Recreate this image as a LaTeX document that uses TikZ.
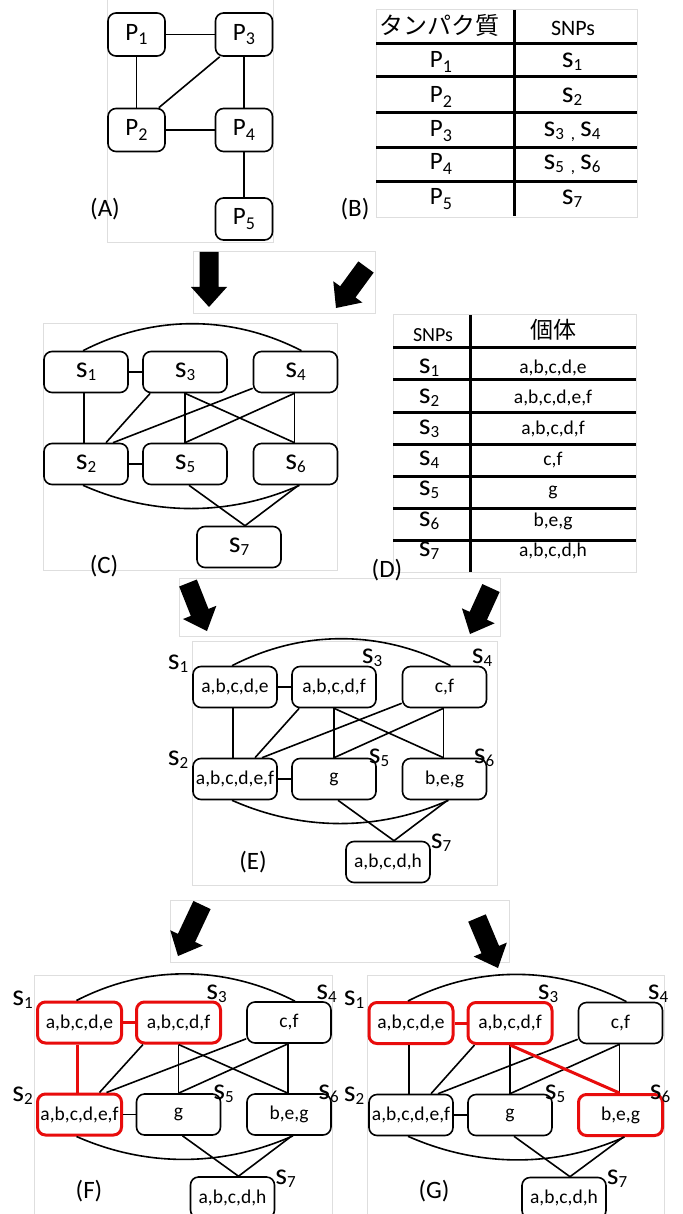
\documentclass[tikz,border=0pt]{standalone}
\usepackage{fontspec}
\setmainfont{Carlito}
\newfontfamily\jpfont{Noto Sans CJK JP}
\usetikzlibrary{calc}
\definecolor{hlred}{RGB}{232,12,12}
\definecolor{pgray}{RGB}{222,222,222}
\newcommand\mysubs[1]{\raisebox{-3pt}{\fontsize{17}{17}\selectfont #1}}
\newcommand\mysubp[1]{\raisebox{-4.5pt}{\fontsize{18}{18}\selectfont #1}}
\newcommand\sS[1]{s\mysubs{#1}}
\newcommand\pP[1]{P\mysubp{#1}}
\tikzset{
  panel/.style={draw=pgray, line width=0.8pt},
  pbox/.style={draw, line width=1.6pt, rounded corners=8pt, minimum width=57pt, minimum height=43pt, inner sep=0pt, font=\fontsize{25}{27}\selectfont},
  gfont/.style={font=\fontsize{19.5}{21}\selectfont},
  gbox/.style={draw, line width=1.6pt, rounded corners=8pt, minimum width=84pt, minimum height=41pt, inner sep=0pt, gfont},
  redbox/.style={draw=hlred, line width=3pt},
  gedge/.style={line width=1.6pt},
  redge/.style={draw=hlred, line width=3pt},
  tline/.style={line width=3pt},
  plabel/.style={inner sep=0pt, font=\fontsize{25}{27}\selectfont},
  slab/.style={inner sep=0pt, font=\fontsize{30}{32}\selectfont},
  ptxt/.style={inner sep=0pt, anchor=base, font=\fontsize{25}{27}\selectfont},
  stxt/.style={inner sep=0pt, anchor=base, font=\fontsize{30}{32}\selectfont},
  vtxt/.style={inner sep=0pt, anchor=base, font=\fontsize{19.5}{21}\selectfont},
  hl1/.style={}, hl2/.style={}, hl3/.style={}, hl4/.style={}, hl5/.style={}, hl6/.style={}, hl7/.style={},
  e12/.style={gedge}, e13/.style={gedge}, e36/.style={gedge},
}
\newcommand\barrow[3]{%
  \coordinate (#1-t) at #2;
  \coordinate (#1-h) at #3;
  \coordinate (#1-b) at ($(#1-h)!20pt!(#1-t)$);
  \fill ($(#1-t)!9.5pt!90:(#1-h)$) -- ($(#1-b)!9.5pt!90:(#1-h)$) -- ($(#1-b)!18pt!90:(#1-h)$) -- (#1-h) -- ($(#1-b)!18pt!-90:(#1-h)$) -- ($(#1-b)!9.5pt!-90:(#1-h)$) -- ($(#1-t)!9.5pt!-90:(#1-h)$) -- cycle;
}
\newcommand\snpgraph[8]{%
  \node[gbox,hl1] (#1-1) at (#1-o) {#2};
  \node[gbox,hl2] (#1-2) at ($(#1-o)+(0,92)$) {#3};
  \node[gbox,hl3] (#1-3) at ($(#1-o)+(99,0)$) {#4};
  \node[gbox,hl4] (#1-4) at ($(#1-o)+(209.5,0)$) {#5};
  \node[gbox,hl5] (#1-5) at ($(#1-o)+(99,92)$) {#6};
  \node[gbox,hl6] (#1-6) at ($(#1-o)+(209.5,92)$) {#7};
  \node[gbox,hl7] (#1-7) at ($(#1-o)+(153,175)$) {#8};
  \draw[gedge] ([xshift=-3pt]#1-1.north) .. controls +(70,-36) and +(-70,-36) .. ([xshift=6pt]#1-4.north);
  \draw[gedge] ([xshift=8pt]#1-3.south west) -- ([xshift=20pt]#1-2.north);
  \draw[gedge] ([yshift=5pt]#1-4.south west) -- ([xshift=27pt]#1-2.north);
  \draw[gedge] (#1-3.south) -- (#1-5.north);
  \draw[gedge] ([xshift=-1pt]#1-4.south) -- (#1-5.north);
  \draw[gedge] ([xshift=-1pt]#1-4.south) -- ([xshift=-1pt]#1-6.north);
  \draw[gedge] (#1-2.east) -- (#1-5.west);
  \draw[gedge] ([xshift=-3pt]#1-2.south) .. controls +(70,31) and +(-70,31) .. ([xshift=4pt]#1-6.south);
  \draw[gedge] ([xshift=4pt]#1-5.south) -- ([xshift=6pt]#1-7.north);
  \draw[gedge] ([xshift=3pt]#1-6.south) -- ([xshift=6pt]#1-7.north);
  \draw[e12] ([xshift=-2pt]#1-1.south) -- ([xshift=-2pt]#1-2.north);
  \draw[e13] (#1-1.east) -- (#1-3.west);
  \draw[e36] (#1-3.south) -- ([xshift=-1pt]#1-6.north);
}
\newcommand\snplabels[1]{%
  \node[slab] (#1-l1) at ($(#1-o)+(-57,-23)$) {\sS1};
  \node[slab] (#1-l3) at ($(#1-o)+(137,-29)$) {\sS3};
  \node[slab] (#1-l4) at ($(#1-o)+(247,-29)$) {\sS4};
  \node[slab] (#1-l2) at ($(#1-o)+(-57,73)$) {\sS2};
  \node[slab] (#1-l5) at ($(#1-o)+(144,71)$) {\sS5};
  \node[slab] (#1-l6) at ($(#1-o)+(249,71)$) {\sS6};
  \node[slab] (#1-l7) at ($(#1-o)+(206,156)$) {\sS7};
}
\begin{document}
\begin{tikzpicture}[x=1pt,y=-1pt]
\useasboundingbox (0,0) rectangle (682,1214);
\fill[white] (0,0) rectangle (682,1214);
% panel borders
\draw[panel] (107,-2) rectangle (273,242);
\draw[panel] (376,9) rectangle (637,217);
\draw[panel] (193,251) rectangle (375,313);
\draw[panel] (43,323) rectangle (337,570);
\draw[panel] (393,314) rectangle (636,572);
\draw[panel] (179,578) rectangle (500,636);
\draw[panel] (192,641) rectangle (497,885);
\draw[panel] (170,900) rectangle (509,962);
\draw[panel] (34,975) rectangle (332,1220);
\draw[panel] (367,975) rectangle (664,1220);
% (A)
\node[pbox] (P1) at (136.5,34.5) {\pP1};
\node[pbox] (P3) at (244,34.5) {\pP3};
\node[pbox] (P2) at (136.5,130) {\pP2};
\node[pbox] (P4) at (244,130) {\pP4};
\node[pbox, minimum height=42pt] (P5) at (244,219) {\pP5};
\draw[gedge] (P1.east) -- (P3.west);
\draw[gedge] (P1.south) -- (P2.north);
\draw[gedge] ([xshift=5pt]P3.south west) -- ([xshift=-7pt]P2.north east);
\draw[gedge] (P2.east) -- (P4.west);
\draw[gedge] (P3.south) -- (P4.north);
\draw[gedge] (P4.south) -- (P5.north);
\node[plabel] (labA) at (105,209) {(A)};
% (B)
\draw[tline] (514,10) -- (514,216);
\foreach \yy in {44,77,113,148,182} \draw[tline] (376,\yy) -- (637,\yy);
\node[inner sep=0pt, font=\fontsize{24}{26}\selectfont\jpfont] (hB1) at (439,25) {タンパク質};
\node[inner sep=0pt, anchor=base, font=\fontsize{22}{24}\selectfont] (hB2) at (573,36) {SNPs};
\node[ptxt] (bP1) at (441,68) {\pP1};
\node[ptxt] (bP2) at (441,103) {\pP2};
\node[ptxt] (bP3) at (441,137) {\pP3};
\node[ptxt] (bP4) at (441,170) {\pP4};
\node[ptxt] (bP5) at (441,205) {\pP5};
\node[stxt] (bS1) at (572,68) {\sS1};
\node[stxt] (bS2) at (572,103) {\sS2};
\node[stxt] (bS3) at (572,137) {\sS3\ \mysubs{,}\,\sS4};
\node[stxt] (bS4) at (572,170) {\sS5\ \mysubs{,}\,\sS6};
\node[stxt] (bS5) at (572,205) {\sS7};
\node[plabel] (labB) at (355,209) {(B)};
% arrows
\barrow{ar1}{(209,252)}{(209,307)}
\barrow{ar2}{(366,267)}{(336,308)}
\barrow{ar3}{(188,583)}{(207,631)}
\barrow{ar4}{(491,588)}{(470,634)}
\barrow{ar5}{(202,905)}{(178,956)}
\barrow{ar6}{(477,918)}{(498,968)}
% (C)
\coordinate (C-o) at (86,372);
\begin{scope}[gfont/.style={font=\fontsize{30}{32}\selectfont}]
\snpgraph{C}{\sS1}{\sS2}{\sS3}{\sS4}{\sS5}{\sS6}{\sS7}
\end{scope}
\node[plabel] (labC) at (104,566) {(C)};
% (D)
\draw[tline] (470,315) -- (470,572);
\foreach \yy in {347,379,412,444,476,508,540} \draw[tline] (393,\yy) -- (636,\yy);
\node[inner sep=0pt, anchor=base, font=\fontsize{20}{22}\selectfont] (hD1) at (433,341) {SNPs};
\node[inner sep=0pt, font=\fontsize{23}{25}\selectfont\jpfont] (hD2) at (553,330) {個体};
\node[stxt] (dS1) at (429,373) {\sS1};
\node[stxt] (dS2) at (429,403.6) {\sS2};
\node[stxt] (dS3) at (429,434) {\sS3};
\node[stxt] (dS4) at (429,465) {\sS4};
\node[stxt] (dS5) at (429,495) {\sS5};
\node[stxt] (dS6) at (429,526) {\sS6};
\node[stxt] (dS7) at (429,556) {\sS7};
\node[vtxt] (dV1) at (553,373) {a,b,c,d,e};
\node[vtxt] (dV2) at (553,403.6) {a,b,c,d,e,f};
\node[vtxt] (dV3) at (553,434) {a,b,c,d,f};
\node[vtxt] (dV4) at (553,465) {c,f};
\node[vtxt] (dV5) at (553,495) {g};
\node[vtxt] (dV6) at (553,526) {b,e,g};
\node[vtxt] (dV7) at (553,556) {a,b,c,d,h};
\node[plabel] (labD) at (387,570) {(D)};
% (E)
\coordinate (E-o) at (235,687);
\snpgraph{E}{a,b,c,d,e}{a,b,c,d,e,f}{a,b,c,d,f}{c,f}{g}{b,e,g}{a,b,c,d,h}
\snplabels{E}
\node[plabel] (labE) at (253,862) {(E)};
% (F)
\coordinate (F-o) at (79.5,1022.5);
\begin{scope}[hl1/.style={redbox}, hl2/.style={redbox}, hl3/.style={redbox}, e12/.style={redge}, e13/.style={redge}]
\snpgraph{F}{a,b,c,d,e}{a,b,c,d,e,f}{a,b,c,d,f}{c,f}{g}{b,e,g}{a,b,c,d,h}
\end{scope}
\snplabels{F}
\node[plabel] (labF) at (89,1191) {(F)};
% (G)
\coordinate (G-o) at (411,1023);
\begin{scope}[hl1/.style={redbox}, hl3/.style={redbox}, hl6/.style={redbox}, e13/.style={redge}, e36/.style={redge}]
\snpgraph{G}{a,b,c,d,e}{a,b,c,d,e,f}{a,b,c,d,f}{c,f}{g}{b,e,g}{a,b,c,d,h}
\end{scope}
\snplabels{G}
\node[plabel] (labG) at (434,1191) {(G)};
\end{tikzpicture}
\end{document}
